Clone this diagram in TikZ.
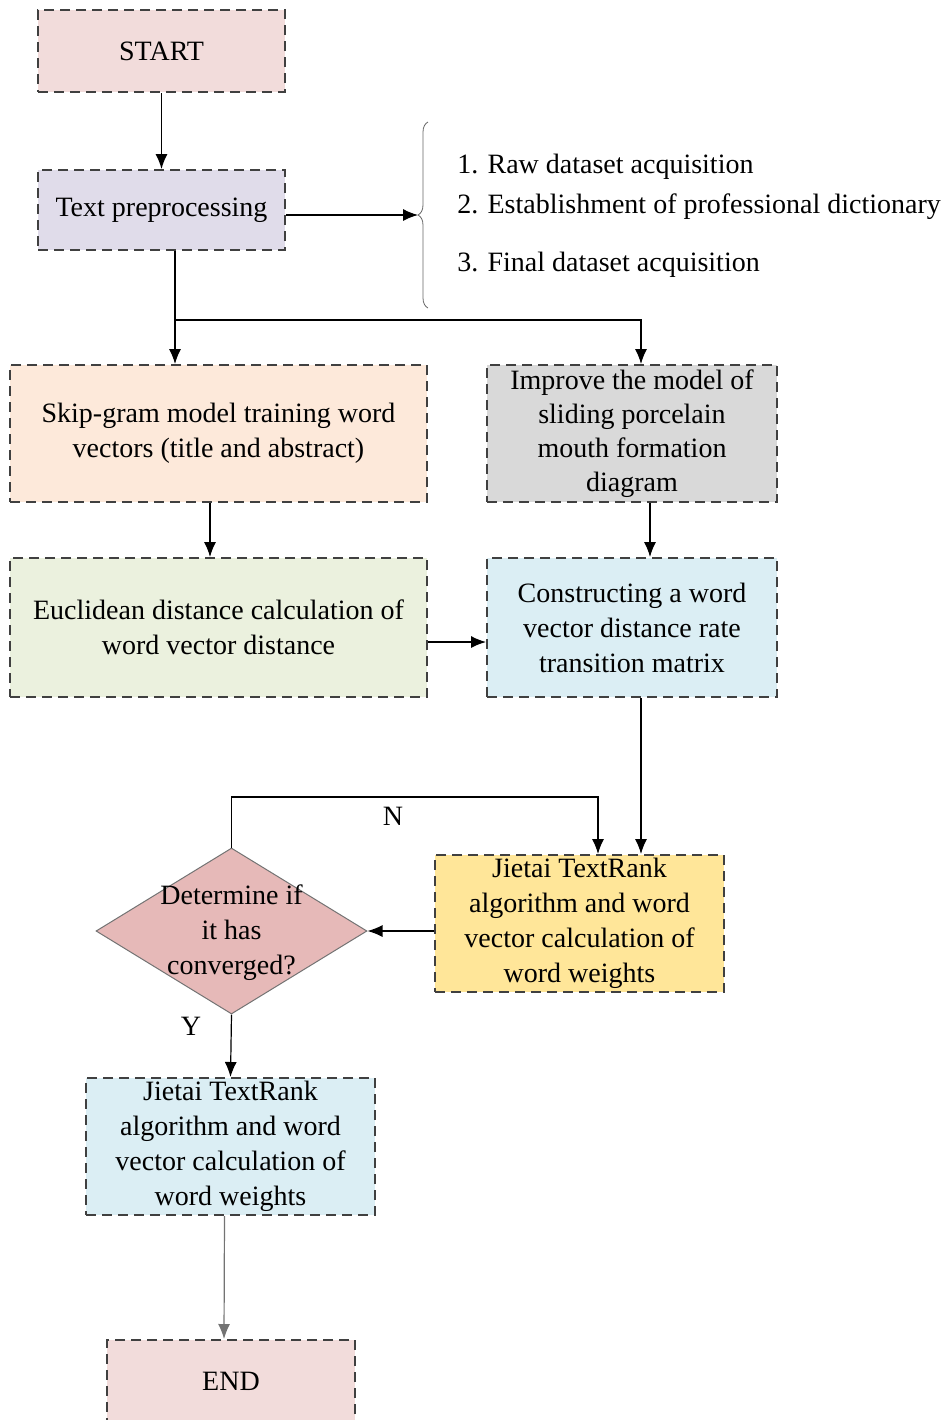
\documentclass[tikz,border=0pt]{standalone}
\usepackage{fontspec}
\setmainfont{Liberation Serif}
\usetikzlibrary{shapes.geometric,arrows.meta,decorations.pathreplacing}

\definecolor{startpink}{HTML}{F2DCDB}
\definecolor{prepviolet}{HTML}{E0DCEA}
\definecolor{skippeach}{HTML}{FDE9DA}
\definecolor{improvegray}{HTML}{D9D9D9}
\definecolor{euclgreen}{HTML}{EBF1DE}
\definecolor{matrixblue}{HTML}{DBEEF4}
\definecolor{rankyellow}{HTML}{FFE699}
\definecolor{convred}{HTML}{E6B9B8}

\begin{document}
\begin{tikzpicture}[x = 0.5pt, y = -0.5pt, line width = 0.6pt,
                    >={Latex[length=7.5pt, width=6pt]},
                    txt/.style = {font = \fontsize{14}{17.5}\selectfont, align = center},
                    box/.style = {txt, draw = black!75, line width = 1pt,
                                  dash pattern = on 5pt off 3pt, inner sep = 1pt},
                    decision/.style = {diamond, draw = black!55, line width = 0.5pt,
                                       fill = convred, inner sep = 0pt}]

\useasboundingbox (0, 0) rectangle (950, 1420);

% left column
\node [box, fill = startpink, minimum width = 123.5pt, minimum height = 41pt] (start) at (161.5, 51) {START};
\node [box, fill = prepviolet, minimum width = 123.5pt, minimum height = 40pt] (prep) at (161.5, 210) {Text preprocessing};
\node [box, fill = skippeach, minimum width = 208.5pt, minimum height = 68.5pt] (skip) at (218.5, 433.5)
      {Skip-gram model training word \\ vectors (title and abstract)};
\node [box, fill = euclgreen, minimum width = 208.5pt, minimum height = 69.5pt] (eucl) at (218.5, 627.5)
      {Euclidean distance calculation of \\ word vector distance};

% right column
\node [box, fill = improvegray, minimum width = 145pt, minimum height = 68.5pt,
       font = \fontsize{14}{17}\selectfont] (improve) at (632, 433.5)
      {Improve the model of \\ sliding porcelain \\ mouth formation \\ diagram};
\node [box, fill = matrixblue, minimum width = 145pt, minimum height = 69.5pt] (matrix) at (632, 627.5)
      {Constructing a word \\ vector distance rate \\ transition matrix};
\node [box, fill = rankyellow, minimum width = 144.5pt, minimum height = 68.5pt] (rank) at (579.5, 923.5)
      {Jietai TextRank \\ algorithm and word \\ vector calculation of \\ word weights};

% decision and end
\node [decision, minimum width = 135.5pt, minimum height = 83pt] (conv) at (231.5, 931) {};
\node [txt] (convtext) at (231.5, 933) {Determine if \\ it has \\ converged?};
\node [box, fill = matrixblue, minimum width = 144.5pt, minimum height = 68.5pt] (weights) at (230.5, 1146.5)
      {Jietai TextRank \\ algorithm and word \\ vector calculation of \\ word weights};
\node [box, fill = startpink, minimum width = 124pt, minimum height = 41pt] (end) at (231, 1381) {END};

% preprocessing steps
\node [txt, anchor = west] (item1) at (450, 167) {1. Raw dataset acquisition};
\node [txt, anchor = west] (item2) at (450, 207) {2. Establishment of professional dictionary};
\node [txt, anchor = west] (item3) at (450, 265) {3. Final dataset acquisition};
\draw [decorate, decoration = {brace, amplitude = 5pt}, line width = 0.4pt, black!60]
      (428, 308) -- (428, 122);
\coordinate (bracetip) at (418, 215);

\node [txt] (nlabel) at (393, 816) {N};
\node [txt] (ylabel) at (191, 1026) {Y};

\coordinate (split) at (175, 320);
\coordinate (loop) at (598, 797);

\draw [->] (start) -- (prep);
\draw [->] (prep.east |- bracetip) -- (bracetip);
\draw (prep.south -| split) -- (split);
\draw [->] (split) -- (split |- skip.north);
\draw [->] (split) -| ([xshift = 4.5pt]improve.north);
\draw [->] ([xshift = -4.25pt]skip.south) -- ([xshift = -4.25pt]eucl.north);
\draw [->] ([xshift = 9pt]improve.south) -- ([xshift = 9pt]matrix.north);
\draw [->] ([yshift = -7.25pt]eucl.east) -- ([yshift = -7.25pt]matrix.west);
\draw [->] ([xshift = 4.5pt]matrix.south) -- ([xshift = 4.5pt]matrix.south |- rank.north);
\draw [->] (rank.west |- conv.east) -- (conv.east);
\draw [->] (conv.north) |- (loop) -- (loop |- rank.north);
\draw [->] (conv.south) -- (weights.north);
\draw [->, black!55] ([xshift = -3pt]weights.south) -- ([xshift = -3.5pt]end.north);

\end{tikzpicture}
\end{document}
